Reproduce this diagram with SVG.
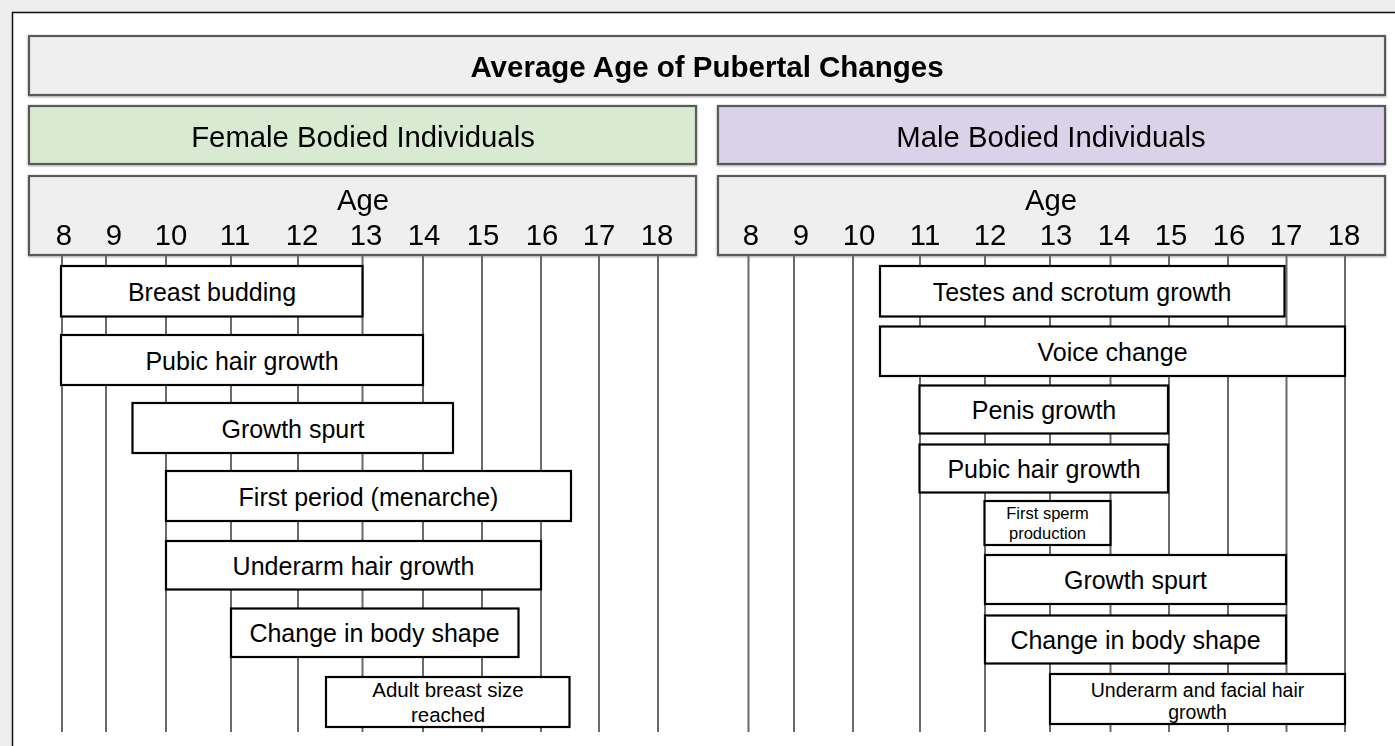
<svg xmlns="http://www.w3.org/2000/svg" width="1395" height="746" viewBox="0 0 1395 746">
<defs>
<filter id="sh" x="-2%" y="-10%" width="104%" height="130%">
<feGaussianBlur in="SourceAlpha" stdDeviation="1.2"/>
<feOffset dx="0" dy="1" result="b"/>
<feComponentTransfer><feFuncA type="linear" slope="0.35"/></feComponentTransfer>
<feMerge><feMergeNode/><feMergeNode in="SourceGraphic"/></feMerge>
</filter>
</defs>
<style>
.hdr{fill:#efefef;stroke:#5a5a5a;stroke-width:2.2}
.fem{fill:#d9ead3;stroke:#5a5a5a;stroke-width:2.2}
.mal{fill:#d9d2e9;stroke:#5a5a5a;stroke-width:2.2}
.bar{fill:#ffffff;stroke:#000000;stroke-width:2.2}
.grid line{stroke:#6a6a6a;stroke-width:2}
text{font-family:"Liberation Sans",Arial,sans-serif;fill:#000000;text-anchor:middle}
.h{font-size:29.3px}
.ttl{font-size:29.5px;font-weight:bold}
.b{font-size:25px}
</style>
<rect x="0" y="0" width="1395" height="746" fill="#eeeeef"/>
<rect x="12.5" y="12.5" width="1400" height="750" fill="#ffffff" stroke="#111111" stroke-width="1.5"/>

<g id="title" filter="url(#sh)">
<rect class="hdr" x="29" y="36" width="1356" height="59"/>
<text class="ttl" x="707" y="76.5">Average Age of Pubertal Changes</text>
</g>
<g id="female-header" filter="url(#sh)">
<rect class="fem" x="29" y="106" width="667" height="58"/>
<text class="h" x="363" y="146.5">Female Bodied Individuals</text>
</g>
<g id="male-header" filter="url(#sh)">
<rect class="mal" x="718" y="106" width="667" height="58"/>
<text class="h" x="1051" y="146.5">Male Bodied Individuals</text>
</g>

<g id="female-age" filter="url(#sh)">
<rect class="hdr" x="29" y="176" width="667" height="79"/>
<text class="h" x="363" y="210">Age</text>
<text class="h" x="64" y="245">8</text>
<text class="h" x="114" y="245">9</text>
<text class="h" x="171" y="245">10</text>
<text class="h" x="235" y="245">11</text>
<text class="h" x="302" y="245">12</text>
<text class="h" x="366" y="245">13</text>
<text class="h" x="424" y="245">14</text>
<text class="h" x="483" y="245">15</text>
<text class="h" x="542" y="245">16</text>
<text class="h" x="599" y="245">17</text>
<text class="h" x="657" y="245">18</text>
</g>
<g id="male-age" filter="url(#sh)">
<rect class="hdr" x="718" y="176" width="667" height="79"/>
<text class="h" x="1051" y="210">Age</text>
<text class="h" x="751" y="245">8</text>
<text class="h" x="801" y="245">9</text>
<text class="h" x="859" y="245">10</text>
<text class="h" x="925" y="245">11</text>
<text class="h" x="990" y="245">12</text>
<text class="h" x="1056" y="245">13</text>
<text class="h" x="1114" y="245">14</text>
<text class="h" x="1171" y="245">15</text>
<text class="h" x="1229" y="245">16</text>
<text class="h" x="1286" y="245">17</text>
<text class="h" x="1344" y="245">18</text>
</g>

<g id="connectors" class="grid">
<line x1="62" y1="256" x2="62" y2="732"/>
<line x1="106" y1="256" x2="106" y2="732"/>
<line x1="166" y1="256" x2="166" y2="732"/>
<line x1="231" y1="256" x2="231" y2="732"/>
<line x1="298" y1="256" x2="298" y2="732"/>
<line x1="362.5" y1="256" x2="362.5" y2="732"/>
<line x1="423" y1="256" x2="423" y2="732"/>
<line x1="482" y1="256" x2="482" y2="732"/>
<line x1="541" y1="256" x2="541" y2="732"/>
<line x1="599" y1="256" x2="599" y2="732"/>
<line x1="658" y1="256" x2="658" y2="732"/>
<line x1="748.5" y1="256" x2="748.5" y2="732"/>
<line x1="794" y1="256" x2="794" y2="732"/>
<line x1="853" y1="256" x2="853" y2="732"/>
<line x1="920" y1="256" x2="920" y2="732"/>
<line x1="985" y1="256" x2="985" y2="732"/>
<line x1="1050" y1="256" x2="1050" y2="732"/>
<line x1="1110.5" y1="256" x2="1110.5" y2="732"/>
<line x1="1169" y1="256" x2="1169" y2="732"/>
<line x1="1228" y1="256" x2="1228" y2="732"/>
<line x1="1286.5" y1="256" x2="1286.5" y2="732"/>
<line x1="1345" y1="256" x2="1345" y2="732"/>
</g>

<g id="f-breast-budding"><rect class="bar" x="61" y="266" width="301.5" height="50.5"/><text class="b" x="212" y="301">Breast budding</text></g>
<g id="f-pubic-hair"><rect class="bar" x="61" y="335" width="362" height="50"/><text class="b" x="242" y="369.5">Pubic hair growth</text></g>
<g id="f-growth-spurt"><rect class="bar" x="132.5" y="403" width="320.5" height="50"/><text class="b" x="293" y="437.5">Growth spurt</text></g>
<g id="f-first-period"><rect class="bar" x="166" y="471" width="405" height="50"/><text class="b" x="368.5" y="505.5">First period (menarche)</text></g>
<g id="f-underarm"><rect class="bar" x="166" y="541" width="375" height="48.5"/><text class="b" x="353.5" y="574.5">Underarm hair growth</text></g>
<g id="f-body-shape"><rect class="bar" x="231" y="608.5" width="287.5" height="48.5"/><text class="b" x="374.5" y="642">Change in body shape</text></g>
<g id="f-adult-breast"><rect class="bar" x="326" y="677" width="243.5" height="50"/><text x="448" y="697" font-size="20.5">Adult breast size</text><text x="448" y="722" font-size="20.5">reached</text></g>

<g id="m-testes"><rect class="bar" x="880" y="266" width="404.5" height="50.5"/><text class="b" x="1082" y="301">Testes and scrotum growth</text></g>
<g id="m-voice"><rect class="bar" x="880" y="326.5" width="465" height="49.5"/><text class="b" x="1112.5" y="360.5">Voice change</text></g>
<g id="m-penis"><rect class="bar" x="919.5" y="385.5" width="248.5" height="48"/><text class="b" x="1044" y="419">Penis growth</text></g>
<g id="m-pubic-hair"><rect class="bar" x="919.5" y="444.5" width="248.5" height="48"/><text class="b" x="1044" y="478">Pubic hair growth</text></g>
<g id="m-first-sperm"><rect class="bar" x="984.5" y="501" width="126" height="44"/><text x="1047.5" y="519" font-size="16.5">First sperm</text><text x="1047.5" y="539" font-size="16.5">production</text></g>
<g id="m-growth-spurt"><rect class="bar" x="985" y="555" width="301" height="49"/><text class="b" x="1135.5" y="589">Growth spurt</text></g>
<g id="m-body-shape"><rect class="bar" x="985" y="615.5" width="301" height="48"/><text class="b" x="1135.5" y="649">Change in body shape</text></g>
<g id="m-underarm-facial"><rect class="bar" x="1050" y="674" width="295" height="50"/><text x="1197.5" y="697" font-size="19.5">Underarm and facial hair</text><text x="1197.5" y="719" font-size="19.5">growth</text></g>
</svg>
